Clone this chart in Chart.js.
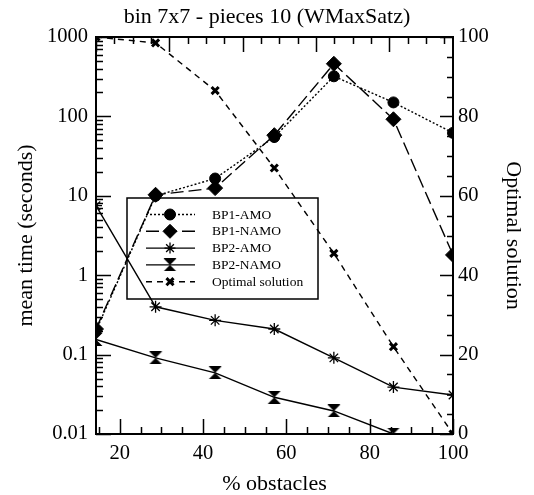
<!DOCTYPE html>
<html>
<head>
<meta charset="utf-8">
<script src="https://cdn.jsdelivr.net/npm/chart.js@4"></script>
<style>
  body { margin: 0; background: #fff; }
  #wrap { width: 534px; height: 495px; }
</style>
</head>
<body>
<div id="wrap"><canvas id="grafico"></canvas></div>
<script>
// valores
const obstacles = [14.3, 28.6, 42.9, 57.1, 71.4, 85.7, 100];
const bp1Amo = [0.2, 10, 16.5, 55, 320, 150, 62];
const bp1Namo = [0.21, 10.3, 12.5, 58, 460, 92, 1.8];
const bp2Amo = [7.5, 0.40, 0.27, 0.21, 0.091, 0.039, 0.031];
const bp2Namo = [0.155, 0.091, 0.059, 0.029, 0.0195, 0.01, null];
const optimal = [100, 98.5, 86.5, 67, 45.5, 22, 0];

const xTicks = [20, 40, 60, 80, 100];
const yTicks = [0.01, 0.1, 1, 10, 100, 1000];
const y2Ticks = [0, 20, 40, 60, 80, 100];

const fonte = 'Liberation Serif';
Chart.defaults.font.family = fonte;
Chart.defaults.color = '#000';

// marcador ampulheta (BP2-NAMO)
const ampulheta = document.createElement('canvas');
ampulheta.width = 14;
ampulheta.height = 13;
(function () {
  const c = ampulheta.getContext('2d');
  c.fillStyle = '#000';
  c.beginPath();
  c.moveTo(0.5, 0); c.lineTo(13.5, 0); c.lineTo(7, 6.5);
  c.lineTo(13.5, 13); c.lineTo(0.5, 13); c.lineTo(7, 6.5);
  c.closePath();
  c.fill();
})();

function pontos(valores) {
  return obstacles.map((x, i) => ({ x: x, y: valores[i] }));
}

function serie(label, valores, estilo) {
  return Object.assign({
    label: label,
    data: pontos(valores),
    borderColor: '#000',
    backgroundColor: '#000',
    pointBackgroundColor: '#000',
    pointBorderColor: '#000',
    borderWidth: 1.4,
    tension: 0,
    clip: 0,
    spanGaps: false,
    yAxisID: 'y'
  }, estilo);
}

// ticks para dentro + moldura
const molduraTicks = {
  id: 'molduraTicks',
  afterDatasetsDraw(chart) {
    const { ctx, chartArea: a, scales } = chart;
    ctx.save();
    ctx.strokeStyle = '#000';
    ctx.lineWidth = 1.5;
    ctx.setLineDash([]);
    ctx.beginPath();
    for (let e = -2; e <= 3; e++) {
      for (let m = 1; m < 10; m++) {
        const v = m * Math.pow(10, e);
        if (v > 1000.0001) break;
        const y = Math.round(scales.y.getPixelForValue(v)) + 0.5;
        const len = m === 1 ? 15 : 7;
        ctx.moveTo(a.left, y); ctx.lineTo(a.left + len, y);
      }
    }
    for (let v = 0; v <= 100; v += 5) {
      const y = Math.round(scales.y2.getPixelForValue(v)) + 0.5;
      const len = v % 20 === 0 ? 13 : 6;
      ctx.moveTo(a.right, y); ctx.lineTo(a.right - len, y);
    }
    for (let v = 15; v <= 100; v += 5) {
      const x = Math.round(scales.x.getPixelForValue(v)) + 0.5;
      const len = v % 20 === 0 ? 15 : 7;
      ctx.moveTo(x, a.bottom); ctx.lineTo(x, a.bottom - len);
    }
    // eixo superior tem espaçamento próprio
    for (let k = 0; ; k++) {
      const v = obstacles[0] + k * 4.4;
      if (v > 100) break;
      const x = Math.round(scales.x.getPixelForValue(v)) + 0.5;
      const len = k % 4 === 0 ? 15 : 7;
      ctx.moveTo(x, a.top); ctx.lineTo(x, a.top + len);
    }
    ctx.stroke();
    ctx.lineWidth = 2;
    ctx.strokeRect(a.left, a.top, a.width, a.height);
    ctx.restore();
  }
};

// legenda dentro da área do gráfico (sem fundo, as linhas aparecem por trás)
const legendaCaixa = {
  id: 'legendaCaixa',
  afterDraw(chart) {
    const { ctx, chartArea: a } = chart;
    const left = a.left + 31;
    const top = a.top + 161;
    ctx.save();
    ctx.strokeStyle = '#000';
    ctx.lineWidth = 1.5;
    ctx.strokeRect(left, top, 191, 101);
    chart.data.datasets.forEach((ds, i) => {
      const y = top + 16.5 + i * 16.8;
      ctx.strokeStyle = '#000';
      ctx.fillStyle = '#000';
      ctx.lineWidth = ds.borderWidth;
      ctx.setLineDash(ds.borderDash || []);
      ctx.beginPath();
      ctx.moveTo(left + 19, y);
      ctx.lineTo(left + 68, y);
      ctx.stroke();
      ctx.setLineDash([]);
      ctx.lineWidth = ds.pointBorderWidth || 1;
      Chart.helpers.drawPoint(ctx, {
        pointStyle: ds.pointStyle,
        radius: ds.legendRadius,
        rotation: 0,
        borderWidth: ds.pointBorderWidth || 1
      }, left + 43, y);
      ctx.font = '13.5px ' + fonte;
      ctx.textBaseline = 'middle';
      ctx.textAlign = 'left';
      ctx.fillText(ds.label, left + 85, y + 0.5);
    });
    ctx.restore();
  }
};

const ctx = document.getElementById('grafico').getContext('2d');
new Chart(ctx, {
  type: 'line',
  data: {
    datasets: [
      serie('BP1-AMO', bp1Amo, { borderDash: [2, 2], pointStyle: 'circle', pointRadius: 5.5, legendRadius: 5.5, pointBorderWidth: 1 }),
      serie('BP1-NAMO', bp1Namo, { borderDash: [13, 5], pointStyle: 'rectRot', pointRadius: 7.5, legendRadius: 7, pointBorderWidth: 1 }),
      serie('BP2-AMO', bp2Amo, { pointStyle: 'star', pointRadius: 6, legendRadius: 5.5, pointBorderWidth: 1.3 }),
      serie('BP2-NAMO', bp2Namo, { pointStyle: ampulheta, pointRadius: 7, legendRadius: 7, pointBorderWidth: 1 }),
      serie('Optimal solution', optimal, { borderDash: [6, 5], pointStyle: 'crossRot', pointRadius: 5, legendRadius: 5, pointBorderWidth: 3, yAxisID: 'y2' })
    ]
  },
  options: {
    responsive: true,
    maintainAspectRatio: false,
    animation: false,
    layout: { padding: 0 },
    plugins: {
      legend: { display: false },
      tooltip: { enabled: false },
      title: {
        display: true,
        text: 'bin 7x7 - pieces 10 (WMaxSatz)',
        font: { size: 22, weight: 'normal', lineHeight: 1.15 },
        padding: { top: 5, bottom: 6.7 }
      }
    },
    scales: {
      x: {
        type: 'linear',
        position: 'bottom',
        min: obstacles[0],
        max: 100,
        grid: { display: false, tickLength: 0 },
        border: { display: false },
        afterBuildTicks: (s) => { s.ticks = xTicks.map(v => ({ value: v })); },
        afterFit: (s) => { s.height = 61; },
        ticks: { font: { size: 20.5 }, padding: 7, maxRotation: 0 },
        title: { display: true, text: '% obstacles', font: { size: 22, lineHeight: 1 }, padding: { top: 0, bottom: 0 } }
      },
      y: {
        type: 'logarithmic',
        position: 'left',
        min: 0.01,
        max: 1000,
        grid: { display: false, tickLength: 0 },
        border: { display: false },
        afterBuildTicks: (s) => { s.ticks = yTicks.map(v => ({ value: v })); },
        afterFit: (s) => { s.width = 96; },
        ticks: { font: { size: 20.5 }, padding: 8, callback: (v) => String(v) },
        title: { display: true, text: 'mean time (seconds)', font: { size: 22 }, padding: { top: 13, bottom: 0 } }
      },
      y2: {
        type: 'linear',
        position: 'right',
        min: 0,
        max: 100,
        grid: { display: false, tickLength: 0 },
        border: { display: false },
        afterBuildTicks: (s) => { s.ticks = y2Ticks.map(v => ({ value: v })); },
        afterFit: (s) => { s.width = 81; },
        ticks: { font: { size: 20.5 }, padding: 5 },
        title: { display: true, text: 'Optimal solution', font: { size: 22 }, padding: { top: 8, bottom: 0 } }
      }
    }
  },
  plugins: [molduraTicks, legendaCaixa]
});
</script>
</body>
</html>
